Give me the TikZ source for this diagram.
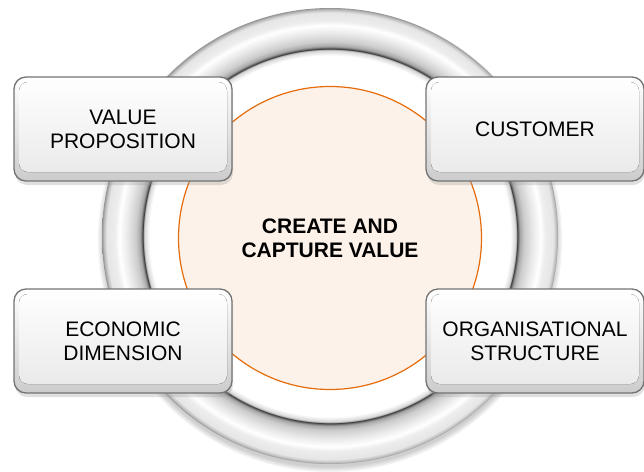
\documentclass[tikz,border=0pt]{standalone}
\usepackage{fontspec}
\setmainfont{Liberation Sans}
\usepackage{xcolor}
\usetikzlibrary{shadows}

\definecolor{coreline}{RGB}{228,108,10}
\definecolor{corefill}{RGB}{252,242,233}

\pgfdeclareradialshading{ringshade}{\pgfpoint{0bp}{0bp}}{%
	color(0bp)=(white); color(19.8bp)=(white); color(20.4bp)=(gray!35);
	color(20.5bp)=(black!80); color(20.8bp)=(gray!70); color(21.3bp)=(gray!40);
	color(22.2bp)=(gray!18); color(23.1bp)=(white); color(23.6bp)=(gray!14);
	color(24.5bp)=(gray!20); color(24.85bp)=(gray!55); color(25bp)=(gray!85);
	color(50bp)=(gray!85)}

\begin{document}
\begin{tikzpicture}[x=1pt,y=-1pt,
	card/.style={draw=black!55, line width=1.3pt, rounded corners=12pt,
		minimum width=218pt, minimum height=104pt,
		top color=white, bottom color=gray!40,
		align=center, font=\fontsize{21}{24}\selectfont,
		drop shadow={shadow xshift=1pt, shadow yshift=-4pt, opacity=0.3, fill=gray!80},
		path picture={\fill[top color=white, bottom color=gray!18, rounded corners=9pt]
			([shift={(5pt,-5pt)}]path picture bounding box.north west) rectangle
			([shift={(-5pt,9pt)}]path picture bounding box.south east);}}]
	\useasboundingbox (0,0) rectangle (644,471);

	% ring
	\foreach \r in {1,...,4}
		\fill[black, opacity=0.05] (330,240) circle ({226+1.5*\r});
	\shade[shading=ringshade] (330,236) circle (228);

	% core
	\node[circle, draw=coreline, fill=corefill, line width=1.2pt, minimum size=303pt,
		align=center, font=\fontsize{21}{24}\selectfont\bfseries] (core) at (330,238)
		{CREATE AND\\CAPTURE VALUE};

	% boxes
	\node[card] (vp) at (123,129) {VALUE\\PROPOSITION};
	\node[card] (cust) at (535,129) {CUSTOMER};
	\node[card] (econ) at (123,341) {ECONOMIC\\DIMENSION};
	\node[card] (org) at (535,341) {ORGANISATIONAL\\STRUCTURE};
\end{tikzpicture}
\end{document}
